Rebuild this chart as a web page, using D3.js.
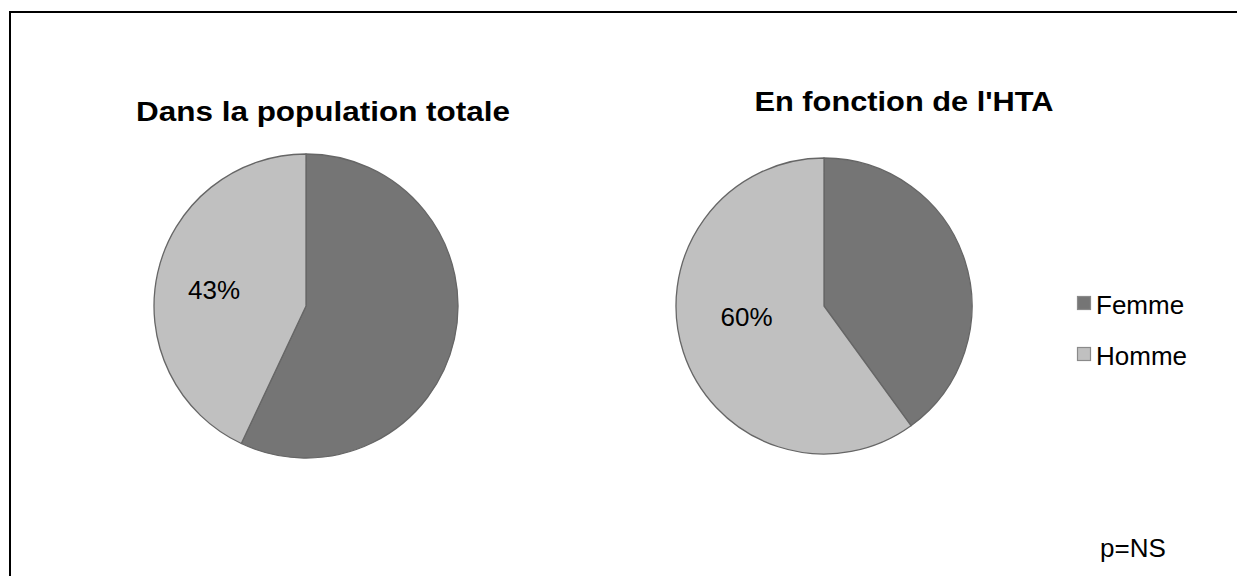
<!DOCTYPE html>
<html><head><meta charset="utf-8">
<script src="https://cdn.jsdelivr.net/npm/d3@7"></script>
<style>html,body{margin:0;padding:0;background:#fff;overflow:hidden;}svg{display:block;font-family:"Liberation Sans",Arial,sans-serif;}</style>
</head><body>
<svg id="c" width="1237" height="576"></svg>
<script>
const categories = ["Femme", "Homme"];
const totalValues = [57, 43];
const htaValues = [40, 60];
const chartTitles = ["Dans la population totale", "En fonction de l'HTA"];
const shownLabel = ["Homme"];
const note = "p=NS";

const svg = d3.select("#c");
const color = d3.scaleOrdinal().domain(categories).range(["#757575", "#c0c0c0"]);

// chart frame (only top and left edges fall inside the picture)
svg.append("path").attr("d", "M10,600V12H1260")
  .attr("fill", "none").attr("stroke", "#000").attr("stroke-width", 2);

const charts = [
  {values: totalValues, title: chartTitles[0], cx: 306, cy: 306, r: 152, tx: 323, ty: 121, tsize: 28, tlen: 374, lr: 0.62, ldy: 4},
  {values: htaValues, title: chartTitles[1], cx: 824, cy: 306, r: 148, tx: 904, ty: 111, tsize: 27, tlen: 299, lr: 0.55, ldy: -14}
];

const pie = d3.pie().sort(null).value(d => d.v);

charts.forEach(c => {
  const data = categories.map((k, i) => ({k, v: c.values[i]}));
  const arcs = pie(data);
  const g = svg.append("g").attr("transform", `translate(${c.cx},${c.cy})`);
  const arc = d3.arc().innerRadius(0).outerRadius(c.r);
  g.selectAll("path").data(arcs).join("path")
    .attr("d", arc).attr("fill", d => color(d.data.k))
    .attr("stroke", "#666").attr("stroke-width", 1.3).attr("stroke-linejoin", "round");
  const labelArc = d3.arc().innerRadius(c.r * c.lr).outerRadius(c.r * c.lr);
  g.selectAll("text.lbl").data(arcs.filter(d => shownLabel.includes(d.data.k))).join("text")
    .attr("class", "lbl")
    .attr("transform", d => { const p = labelArc.centroid(d); return `translate(${p[0]},${p[1] + c.ldy})`; })
    .attr("text-anchor", "middle").attr("dy", "0.35em")
    .attr("font-size", 26).attr("fill", "#000")
    .text(d => d.data.v + "%");
  svg.append("text").attr("x", c.tx).attr("y", c.ty).attr("text-anchor", "middle")
    .attr("font-size", c.tsize).attr("font-weight", "bold").attr("fill", "#000")
    .attr("textLength", c.tlen).attr("lengthAdjust", "spacingAndGlyphs")
    .text(c.title);
});

const legend = svg.append("g").attr("transform", "translate(1077,0)");
const ly = d3.scalePoint().domain(categories).range([303, 354]);
categories.forEach(k => {
  legend.append("rect").attr("x", 0.5).attr("y", ly(k) - 6.5).attr("width", 13).attr("height", 13)
    .attr("fill", color(k)).attr("stroke", "#8a8a8a").attr("stroke-width", 1.2);
  legend.append("text").attr("x", 19).attr("y", ly(k) + 2).attr("dy", "0.35em")
    .attr("font-size", 26).attr("fill", "#000").text(k);
});

svg.append("text").attr("x", 1100).attr("y", 557).attr("font-size", 26).attr("fill", "#000").text(note);
</script>
</body></html>
